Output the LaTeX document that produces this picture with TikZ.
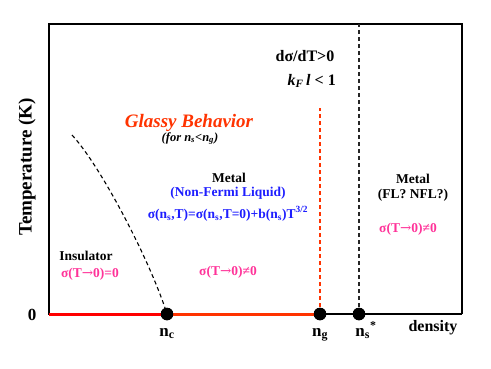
\documentclass[tikz,border=0pt]{standalone}
\usepackage{fontspec}
\setmainfont{Liberation Serif}
\newfontfamily\arrfont{DejaVu Serif}
\newcommand{\toarr}{{\arrfont\mdseries →}}
\definecolor{pureRed}{RGB}{255,0,0}
\definecolor{orRed}{RGB}{255,51,0}
\definecolor{pinkT}{RGB}{255,51,153}
\definecolor{blueT}{RGB}{30,30,255}
\begin{document}
\begin{tikzpicture}[x=1pt,y=-1pt,
  lbl/.style={font=\bfseries\fontsize{13.5}{15}\selectfont, inner sep=0, anchor=base},
  big/.style={font=\bfseries\fontsize{17}{19}\selectfont, inner sep=0, anchor=base},
  dot/.style={circle, fill=black, minimum size=12.5pt, inner sep=0},
  dashline/.style={dash pattern=on 4pt off 3pt, line width=1.1pt}]
\useasboundingbox (0,0) rectangle (491,368);
% frame
\coordinate (bl) at (49,314);
\coordinate (tl) at (49,24);
\coordinate (tr) at (462,24);
\coordinate (br) at (462,314);
\coordinate (nstop) at (359,24);
\coordinate (ngtop) at (320,108);
\coordinate (glassTop) at (72,135);
\draw[line width=1.4pt] (br) -- (bl) -- (tl) -- (tr) -- (br);
% dots
\node[dot] (nc) at (167,314) {};
\node[dot] (ng) at (320,314) {};
\node[dot] (ns) at (359,314) {};
% lines
\draw[pureRed, line width=3pt] (bl) -- (nc.center);
\draw[orRed, line width=3pt] (nc.center) -- (ng.center);
\draw[dashline, black!85] (ns.center) -- (nstop);
\draw[dashline, orRed] (ng.center) -- (ngtop);
\draw[dashline] (glassTop) .. controls (100,165) and (150,260) .. (nc.center);
\node[dot] at (nc) {};
\node[dot] at (ng) {};
\node[dot] at (ns) {};
% axis labels
\node[font=\bfseries\fontsize{19}{21}\selectfont, rotate=90, inner sep=0] (ylab) at (27,167) {Temperature (K)};
\node[big] (zero) at (32,320) {0};
\node[big] (lnc) at (167,336) {n\textsubscript{c}};
\node[big] (lng) at (320,336) {n\textsubscript{g}};
\node[big] (lns) at (366,336) {n\textsubscript{s}\textsuperscript{*}};
\node[font=\bfseries\fontsize{16}{18}\selectfont, inner sep=0, anchor=base] (dens) at (433,331) {density};
% top labels
\node[font=\bfseries\fontsize{16}{18}\selectfont, inner sep=0, anchor=base] (dsdt) at (305,61) {dσ/dT>0};
\node[font=\bfseries\fontsize{16}{18}\selectfont, inner sep=0, anchor=base east] (kfl) at (336,85) {\textit{k}\textsubscript{\textit{F}}\,\textit{l} < 1};
% glassy
\node[font=\bfseries\itshape\fontsize{19}{21}\selectfont, text=orRed, inner sep=0, anchor=base] (glassy) at (189,127) {Glassy Behavior};
\node[font=\bfseries\itshape\fontsize{12.5}{14}\selectfont, inner sep=0, anchor=base] (forns) at (190,141) {(for n\textsubscript{s}<n\textsubscript{g})};
% middle metal
\node[lbl] (metal1) at (229,182) {Metal};
\node[lbl, text=blueT] (nfl) at (228,196) {(Non-Fermi Liquid)};
\node[lbl, text=blueT] (formula) at (228,218) {σ(n\textsubscript{s},T)=σ(n\textsubscript{s},T=0)+b(n\textsubscript{s})T\textsuperscript{3/2}};
\node[lbl, text=pinkT] (sigmid) at (228,275) {σ(T\toarr0)≠0};
% insulator
\node[lbl] (ins) at (86,260) {Insulator};
\node[lbl, text=pinkT] (sigins) at (90,277) {σ(T\toarr0)=0};
% right metal
\node[lbl] (metal2) at (413,183) {Metal};
\node[lbl] (flnfl) at (413,198) {(FL? NFL?)};
\node[lbl, text=pinkT] (sigr) at (408,232) {σ(T\toarr0)≠0};
\end{tikzpicture}
\end{document}
